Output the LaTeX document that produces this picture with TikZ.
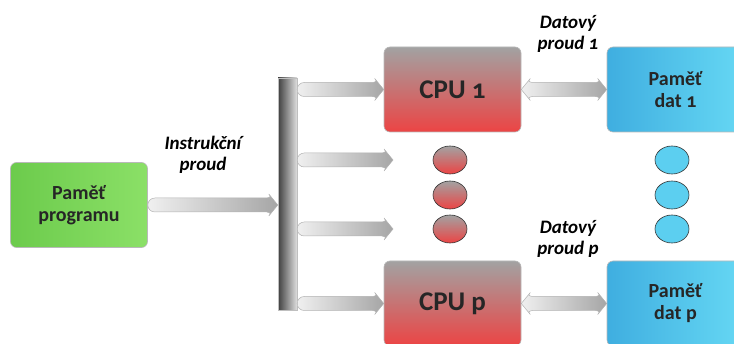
\documentclass[tikz,border=0pt]{standalone}
\usepackage{fontspec}
\setmainfont{Carlito}[Numbers=OldStyle]
\usepackage{tikz}
\usetikzlibrary{calc, shapes.geometric}
\definecolor{progleft}{HTML}{6CCB4C}
\definecolor{progright}{HTML}{8BE067}
\definecolor{cputop}{HTML}{A2A2A2}
\definecolor{cpubot}{HTML}{EC4444}
\definecolor{datleft}{HTML}{3FAEE0}
\definecolor{datright}{HTML}{66D8F4}
\definecolor{datdot}{HTML}{5CCFF0}

% fat horizontal arrow with rounded tail
\newcommand{\flowarrow}[2]{%
  \path[flowshade] let \p1=(#1), \p2=(#2) in
    (\x1+7pt,\y1+7pt) -- (\x2-11pt,\y1+7pt)
    .. controls (\x2-7pt,\y1+8pt) .. (\x2-9pt,\y1+11pt) -- (\x2,\y1)
    -- (\x2-9pt,\y1-11pt) .. controls (\x2-7pt,\y1-8pt) .. (\x2-11pt,\y1-7pt)
    -- (\x1+7pt,\y1-7pt) arc[start angle=270, end angle=90, radius=7pt] -- cycle;}
% fat horizontal arrow with heads at both ends
\newcommand{\dualarrow}[2]{%
  \path[flowshade] let \p1=(#1), \p2=(#2) in
    (\x1,\y1) -- (\x1+9pt,\y1+11pt) .. controls (\x1+7pt,\y1+8pt) .. (\x1+11pt,\y1+7pt)
    -- (\x2-11pt,\y1+7pt) .. controls (\x2-7pt,\y1+8pt) .. (\x2-9pt,\y1+11pt) -- (\x2,\y1)
    -- (\x2-9pt,\y1-11pt) .. controls (\x2-7pt,\y1-8pt) .. (\x2-11pt,\y1-7pt)
    -- (\x1+11pt,\y1-7pt) .. controls (\x1+7pt,\y1-8pt) .. (\x1+9pt,\y1-11pt) -- cycle;}

\begin{document}
\begin{tikzpicture}[x=1pt, y=-1pt,
    box/.style={rectangle, rounded corners=6pt, draw=gray!55, line width=0.6pt,
      minimum width=137pt, minimum height=85pt, align=center,
      font=\fontsize{20}{22}\selectfont\bfseries, text=black!85},
    progbox/.style={box, left color=progleft, right color=progright},
    cpubox/.style={box, top color=cputop, bottom color=cpubot,
      font=\fontsize{27}{30}\selectfont\bfseries},
    datbox/.style={box, left color=datleft, right color=datright},
    cpudot/.style={ellipse, draw=gray!40!black, line width=0.6pt, minimum width=34pt,
      minimum height=28pt, inner sep=0pt, top color=cputop, bottom color=cpubot},
    datdot/.style={ellipse, draw=gray!40!black, line width=0.6pt, minimum width=34pt,
      minimum height=28pt, inner sep=0pt, fill=datdot},
    busbar/.style={rectangle, minimum width=19pt, minimum height=232pt, inner sep=0pt,
      left color=black!75, right color=gray!25, draw=gray!50},
    flowshade/.style={left color=gray!12, right color=gray!70, draw=gray!60, line width=0.5pt},
    streamlabel/.style={align=center, font=\fontsize{19}{21}\selectfont\bfseries\itshape}
  ]
  \useasboundingbox (0,0) rectangle (734,344);

  % memories and processors
  \node[progbox] (prog) at (79,205) {Paměť\\programu};
  \node[cpubox] (cpu1) at (452.5,89.5) {CPU 1};
  \node[cpubox] (cpup) at (452.5,303.5) {CPU p};
  \node[datbox] (dat1) at (675.5,89.5) {Paměť\\dat 1};
  \node[datbox] (datp) at (675.5,303.5) {Paměť\\dat p};

  % instruction bus
  \node[busbar] (bus) at (287.5,194) {};

  % dots for the processors in between
  \node[cpudot] (cdot1) at (450,160) {};
  \node[cpudot] (cdot2) at (450,195) {};
  \node[cpudot] (cdot3) at (450,229) {};
  \node[datdot] (ddot1) at (672,160) {};
  \node[datdot] (ddot2) at (672,195) {};
  \node[datdot] (ddot3) at (672,229) {};

  % free ends of the middle arrows
  \coordinate (gap1) at (393,160);
  \coordinate (gap2) at (393,229);

  % instruction stream
  \flowarrow{prog.east}{bus.west |- prog.east}
  \flowarrow{bus.east |- cpu1.west}{cpu1.west}
  \flowarrow{bus.east |- gap1}{gap1}
  \flowarrow{bus.east |- gap2}{gap2}
  \flowarrow{bus.east |- cpup.west}{cpup.west}

  % data streams
  \dualarrow{cpu1.east}{dat1.west}
  \dualarrow{cpup.east}{datp.west}

  % labels
  \node[streamlabel] (instlabel) at (203,155) {Instrukční\\proud};
  \node[streamlabel] (dlabel1) at (568,34) {Datový\\proud 1};
  \node[streamlabel] (dlabelp) at (568,239) {Datový\\proud p};
\end{tikzpicture}
\end{document}
